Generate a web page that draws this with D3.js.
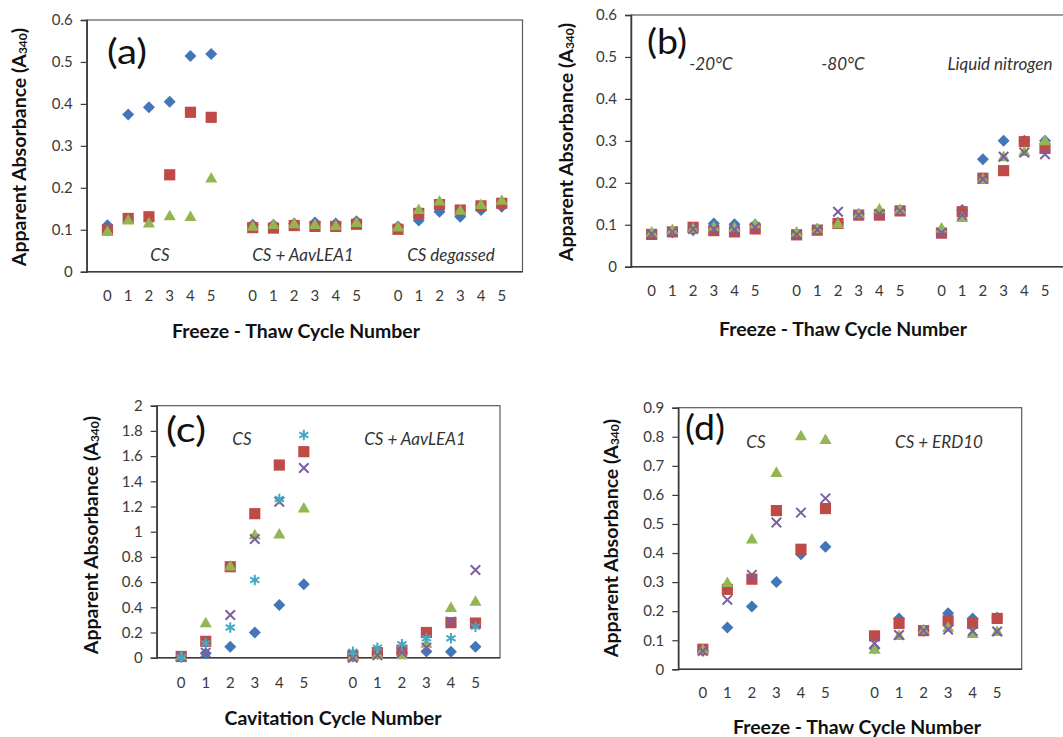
<!DOCTYPE html>
<html>
<head>
<meta charset="utf-8">
<script src="https://cdn.jsdelivr.net/npm/d3@7"></script>
<style>
  body { margin: 0; background: #fff; }
  svg { display: block; font-family: Lato, "Open Sans", sans-serif; }
</style>
</head>
<body>
<script>
// cycle labels shared by every group
var cycles = ["0", "1", "2", "3", "4", "5"];

// (a) freeze-thaw, three treatments
var aGroups = ["CS", "CS + AavLEA1", "CS degassed"];
var aBlue  = [0.111, 0.375, 0.392, 0.405, 0.514, 0.519,  0.112, 0.112, 0.115, 0.117, 0.115, 0.120,  0.108, 0.122, 0.143, 0.131, 0.147, 0.155];
var aRed   = [0.099, 0.127, 0.131, 0.231, 0.380, 0.368,  0.105, 0.104, 0.110, 0.108, 0.108, 0.113,  0.101, 0.139, 0.160, 0.147, 0.157, 0.163];
var aGreen = [0.094, 0.121, 0.114, 0.131, 0.129, 0.221,  0.106, 0.110, 0.112, 0.110, 0.108, 0.115,  0.104, 0.146, 0.166, 0.144, 0.158, 0.168];

// (b) freeze-thaw at three temperatures
var bGroups = ["-20°C", "-80°C", "Liquid nitrogen"];
var bBlue   = [0.078, 0.082, 0.087, 0.103, 0.101, 0.100,  0.078, 0.090, 0.105, 0.125, 0.128, 0.134,  0.085, 0.135, 0.256, 0.300, 0.300, 0.300];
var bRed    = [0.077, 0.083, 0.094, 0.086, 0.083, 0.090,  0.076, 0.087, 0.103, 0.123, 0.123, 0.133,  0.080, 0.131, 0.211, 0.229, 0.298, 0.282];
var bGreen  = [0.080, 0.086, 0.089, 0.093, 0.091, 0.100,  0.080, 0.088, 0.100, 0.124, 0.135, 0.134,  0.090, 0.115, 0.207, 0.260, 0.272, 0.298];
var bPurple = [0.078, 0.083, 0.090, 0.090, 0.088, 0.094,  0.077, 0.088, 0.131, 0.123, 0.126, 0.133,  0.081, 0.123, 0.209, 0.262, 0.272, 0.268];

// (c) cavitation
var cGroups = ["CS", "CS + AavLEA1"];
var cBlue   = [0.008, 0.035, 0.087, 0.200, 0.418, 0.582,  0.010, 0.030, 0.040, 0.050, 0.048, 0.087];
var cRed    = [0.010, 0.130, 0.722, 1.143, 1.529, 1.635,  0.016, 0.040, 0.060, 0.200, 0.278, 0.275];
var cGreen  = [0.004, 0.270, 0.720, 0.968, 0.973, 1.180,  0.005, 0.020, 0.015, 0.106, 0.390, 0.440];
var cPurple = [0.006, 0.040, 0.339, 0.942, 1.238, 1.505,  0.000, 0.020, 0.040, 0.080, 0.286, 0.696];
var cCyan   = [0.004, 0.114, 0.240, 0.616, 1.259, 1.767,  0.048, 0.080, 0.106, 0.154, 0.154, 0.246];

// (d) freeze-thaw with ERD10
var dGroups = ["CS", "CS + ERD10"];
var dBlue   = [0.063, 0.144, 0.216, 0.300, 0.396, 0.422,  0.072, 0.175, 0.133, 0.193, 0.175, 0.177];
var dRed    = [0.069, 0.275, 0.310, 0.546, 0.413, 0.553,  0.115, 0.158, 0.133, 0.167, 0.158, 0.175];
var dGreen  = [0.065, 0.295, 0.445, 0.674, 0.800, 0.787,  0.066, 0.113, 0.133, 0.141, 0.120, 0.127];
var dPurple = [0.063, 0.239, 0.325, 0.505, 0.539, 0.588,  0.089, 0.118, 0.133, 0.137, 0.132, 0.130];

var colors = {blue: "#4276b9", red: "#be4b48", green: "#93b653", purple: "#7d5fa0", cyan: "#43a8c4"};

// marker shapes like the spreadsheet defaults
var diamond = { draw: function(ctx, size) {
  var r = Math.sqrt(size) / 2;
  ctx.moveTo(0, -r); ctx.lineTo(r, 0); ctx.lineTo(0, r); ctx.lineTo(-r, 0); ctx.closePath();
}};
var cross = { draw: function(ctx, size) {
  var r = Math.sqrt(size) / 2;
  ctx.moveTo(-r, -r); ctx.lineTo(r, r); ctx.moveTo(-r, r); ctx.lineTo(r, -r);
}};
var star = { draw: function(ctx, size) {
  var r = Math.sqrt(size) / 2, q = r * 0.87;
  ctx.moveTo(0, -r); ctx.lineTo(0, r);
  ctx.moveTo(-q, -r / 2); ctx.lineTo(q, r / 2);
  ctx.moveTo(-q, r / 2); ctx.lineTo(q, -r / 2);
}};
var markers = {
  blue:   {type: diamond, size: 144, fill: true},
  red:    {type: d3.symbolSquare, size: 125, fill: true},
  green:  {type: d3.symbolTriangle, size: 64, fill: true},
  purple: {type: cross, size: 90, fill: false},
  cyan:   {type: star, size: 110, fill: false}
};

var svg = d3.select("body").append("svg")
  .attr("width", 1063).attr("height", 737);

function panel(opt) {
  var nGroups = opt.groups.length;
  var nSlots = nGroups * 7 - 1;
  var x = d3.scaleLinear().domain([-1, nSlots]).range([opt.left, opt.right]);
  var y = d3.scaleLinear().domain([0, opt.ymax]).range([opt.bottom, opt.top]);
  var g = svg.append("g");

  // plot frame
  g.append("rect")
    .attr("x", opt.left).attr("y", opt.top)
    .attr("width", opt.right - opt.left).attr("height", opt.bottom - opt.top)
    .attr("fill", "none").attr("stroke", "#5a5a5a").attr("stroke-width", 1.2);

  // y axis
  var yAxis = d3.axisLeft(y).tickValues(d3.range(0, opt.ymax + 1e-9, opt.ystep))
    .tickSize(6).tickPadding(8).tickFormat(d3.format("~g"));
  var ya = g.append("g").attr("transform", "translate(" + opt.left + ",0)").call(yAxis);
  ya.select(".domain").attr("stroke", "#3a3a3a").attr("stroke-width", 1.5);
  ya.selectAll(".tick line").attr("stroke", "#3a3a3a").attr("stroke-width", 1.2);
  ya.selectAll("text").attr("font-size", 15).attr("fill", "#3a3a3a")
    .attr("font-family", "Lato, sans-serif");

  // x baseline
  g.append("line")
    .attr("x1", opt.left).attr("x2", opt.right)
    .attr("y1", opt.bottom).attr("y2", opt.bottom)
    .attr("stroke", "#3a3a3a").attr("stroke-width", 1.5);

  // x labels (cycle numbers per group)
  var slots = [];
  opt.groups.forEach(function(name, gi) {
    cycles.forEach(function(c, ci) { slots.push({pos: gi * 7 + ci, label: c}); });
  });
  g.selectAll(".xl").data(slots).join("text")
    .attr("x", function(d) { return x(d.pos); })
    .attr("y", opt.bottom + opt.xlabOff)
    .attr("text-anchor", "middle").attr("dominant-baseline", "central")
    .attr("font-size", 15).attr("fill", "#3a3a3a")
    .text(function(d) { return d.label; });

  // group labels inside the plot
  opt.groups.forEach(function(name, gi) {
    g.append("text")
      .attr("x", opt.groupX[gi]).attr("y", opt.groupY)
      .attr("text-anchor", "middle").attr("dominant-baseline", "central")
      .attr("font-size", 17).attr("font-style", "italic").attr("fill", "#333")
      .text(name);
  });

  // panel letter
  g.append("text")
    .attr("x", opt.letterX).attr("y", opt.letterY)
    .attr("dominant-baseline", "central")
    .attr("font-size", 35).attr("fill", "#111")
    .attr("textLength", 40).attr("lengthAdjust", "spacingAndGlyphs")
    .text(opt.letter);

  // axis titles
  g.append("text")
    .attr("x", opt.xtX).attr("y", opt.xtY)
    .attr("text-anchor", "middle").attr("dominant-baseline", "central")
    .attr("font-size", 18).attr("font-weight", "bold").attr("fill", "#111")
    .attr("textLength", opt.xtLen).attr("lengthAdjust", "spacingAndGlyphs")
    .text(opt.xTitle);

  var yt = g.append("text")
    .attr("transform", "translate(" + opt.ytX + "," + opt.ytY + ") rotate(-90)")
    .attr("text-anchor", "middle").attr("dominant-baseline", "central")
    .attr("font-size", 19.5).attr("font-weight", "bold").attr("fill", "#111");
  yt.append("tspan").text("Apparent Absorbance (A");
  yt.append("tspan").attr("font-size", 12).attr("dy", 4).text("340");
  yt.append("tspan").attr("dy", -4).text(")");

  // series markers
  opt.series.forEach(function(s) {
    var m = markers[s.color];
    var sym = d3.symbol().type(m.type).size(m.size);
    var pts = s.values.map(function(v, i) {
      return {pos: Math.floor(i / 6) * 7 + (i % 6), v: v};
    });
    g.append("g").selectAll("path").data(pts).join("path")
      .attr("transform", function(d) { return "translate(" + x(d.pos) + "," + y(d.v) + ")"; })
      .attr("d", sym)
      .attr("fill", m.fill ? colors[s.color] : "none")
      .attr("stroke", m.fill ? "none" : colors[s.color])
      .attr("stroke-width", m.fill ? 0 : 2);
  });
}

panel({
  letter: "(a)", letterX: 107, letterY: 50,
  groups: aGroups, groupX: [160, 303, 451], groupY: 254,
  left: 86.7, right: 522.5, top: 20, bottom: 271.7, ymax: 0.6, ystep: 0.1, xlabOff: 23,
  xTitle: "Freeze - Thaw Cycle Number", xtX: 296, xtY: 331, xtLen: 248,
  ytX: 18, ytY: 147,
  series: [{color: "blue", values: aBlue}, {color: "red", values: aRed}, {color: "green", values: aGreen}]
});

panel({
  letter: "(b)", letterX: 647, letterY: 40,
  groups: bGroups, groupX: [711, 843, 1000], groupY: 63,
  left: 631, right: 1065.7, top: 15, bottom: 266.7, ymax: 0.6, ystep: 0.1, xlabOff: 23,
  xTitle: "Freeze - Thaw Cycle Number", xtX: 843, xtY: 329, xtLen: 248,
  ytX: 565, ytY: 142,
  series: [{color: "blue", values: bBlue}, {color: "red", values: bRed}, {color: "green", values: bGreen}, {color: "purple", values: bPurple}]
});

panel({
  letter: "(c)", letterX: 166, letterY: 428,
  groups: cGroups, groupX: [242, 415], groupY: 438,
  left: 156.7, right: 500, top: 405.7, bottom: 657.7, ymax: 2, ystep: 0.2, xlabOff: 24,
  xTitle: "Cavitation  Cycle Number", xtX: 333, xtY: 718, xtLen: 217,
  ytX: 90, ytY: 535,
  series: [{color: "blue", values: cBlue}, {color: "red", values: cRed}, {color: "green", values: cGreen}, {color: "purple", values: cPurple}, {color: "cyan", values: cCyan}]
});

panel({
  letter: "(d)", letterX: 685, letterY: 426,
  groups: dGroups, groupX: [756, 939], groupY: 441,
  left: 678.3, right: 1021.7, top: 407.7, bottom: 669.3, ymax: 0.9, ystep: 0.1, xlabOff: 23,
  xTitle: "Freeze - Thaw Cycle Number", xtX: 857, xtY: 727, xtLen: 248,
  ytX: 610, ytY: 538,
  series: [{color: "blue", values: dBlue}, {color: "red", values: dRed}, {color: "green", values: dGreen}, {color: "purple", values: dPurple}]
});
</script>
</body>
</html>
